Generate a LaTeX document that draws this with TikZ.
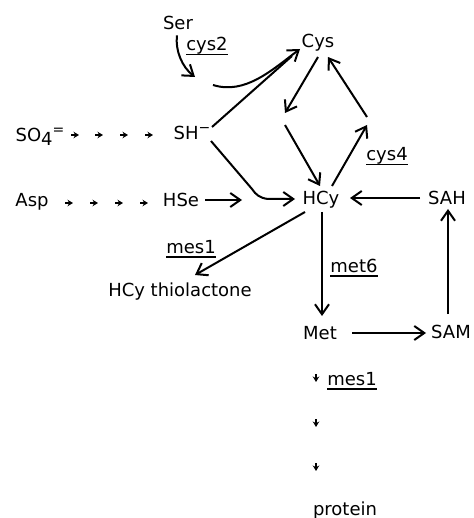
\documentclass[tikz,border=0pt]{standalone}
\usepackage{fontspec}
\setmainfont{DejaVu Sans}
\usetikzlibrary{arrows.meta}
\newcommand\enzul[1]{\setbox0\hbox{#1}\rlap{\rule[-4.5pt]{\wd0}{1.5pt}}\box0}
\begin{document}
\begin{tikzpicture}[x=1pt,y=-1pt,
  lbl/.style={anchor=base,inner sep=0pt,font=\fontsize{18}{20}\selectfont},
  enz/.style={lbl},
  plain/.style={line width=2pt},
  arr/.style={line width=2pt,-{Straight Barb[length=10pt,width=14pt,line width=2pt]}},
  small/.style={line width=1.4pt,-{Stealth[length=5.5pt,width=6.5pt]}}]
\useasboundingbox (0,0) rectangle (473,518);
% nodes
\node[lbl] (ser) at (178,30) {Ser};
\node[enz] (cys2) at (207,51) {\enzul{cys2}};
\node[lbl] (cys) at (318,48) {Cys};
\node[lbl] (so4) at (40,142) {SO\raisebox{-4pt}{4}\raisebox{7pt}{\fontsize{14}{14}\selectfont =}};
\node[lbl] (sh) at (192,140) {SH\raisebox{7pt}{\fontsize{14}{14}\selectfont −}};
\node[lbl] (asp) at (32,207) {Asp};
\node[lbl] (hse) at (181,207) {HSe};
\node[lbl] (hcy) at (321,205) {HCy};
\node[lbl] (sah) at (447,205) {SAH};
\node[enz] (cys4) at (387,161) {\enzul{cys4}};
\node[enz] (mesa) at (191,253) {\enzul{mes1}};
\node[lbl] (thio) at (180,296) {HCy thiolactone};
\node[enz] (met6) at (354,272) {\enzul{met6}};
\node[lbl] (met) at (320,339) {Met};
\node[lbl] (sam) at (451,338) {SAM};
\node[enz] (mesb) at (352,385) {\enzul{mes1}};
\node[lbl] (protein) at (345,515) {protein};
% coordinates
\coordinate (serend) at (195,77);
\coordinate (cstart) at (213,85);
\coordinate (cystip) at (300,49);
\coordinate (shup) at (212,127);
\coordinate (shdown) at (211,141);
\coordinate (hcyw) at (295,199);
\coordinate (hsee) at (205,200);
\coordinate (hsetip) at (242,200);
\coordinate (dl1) at (285,113);
\coordinate (dl2) at (285,125);
\coordinate (dr1) at (367,125);
\coordinate (dr2) at (367,117);
\coordinate (thtip) at (195,275);
% connectors
\draw[arr] (ser.south) ++(-1,5) .. controls (175,50) and (182,67) .. (serend);
\draw[arr] (cstart) .. controls (245,95) and (272,70) .. (cystip);
\draw[plain] (shup) -- (292,56);
\draw[arr] (shdown) -- (252,189) .. controls (256,195) and (260,198) .. (268,199) -- (hcyw);
\draw[arr] (hsee) -- (hsetip);
\draw[arr] (318,57) -- (dl1);
\draw[arr] (dl2) -- (320,186);
\draw[arr] (332,186) -- (dr1);
\draw[arr] (dr2) -- (328,57);
\draw[arr] (420,198) -- (350,198);
\draw[arr] (305,212) -- (thtip);
\draw[arr] (322,212) -- (322,316);
\draw[arr] (352,333) -- (426,333);
\draw[arr] (448,314) -- (448,209);
% small dotted arrows
\foreach \x in {71,95,120,145} \draw[small] (\x,135) -- (\x+8,135);
\foreach \x in {65,90,115,140} \draw[small] (\x,203) -- (\x+8,203);
\foreach \y in {374,419,463} \draw[small] (316,\y) -- (316,\y+8);
\end{tikzpicture}
\end{document}
